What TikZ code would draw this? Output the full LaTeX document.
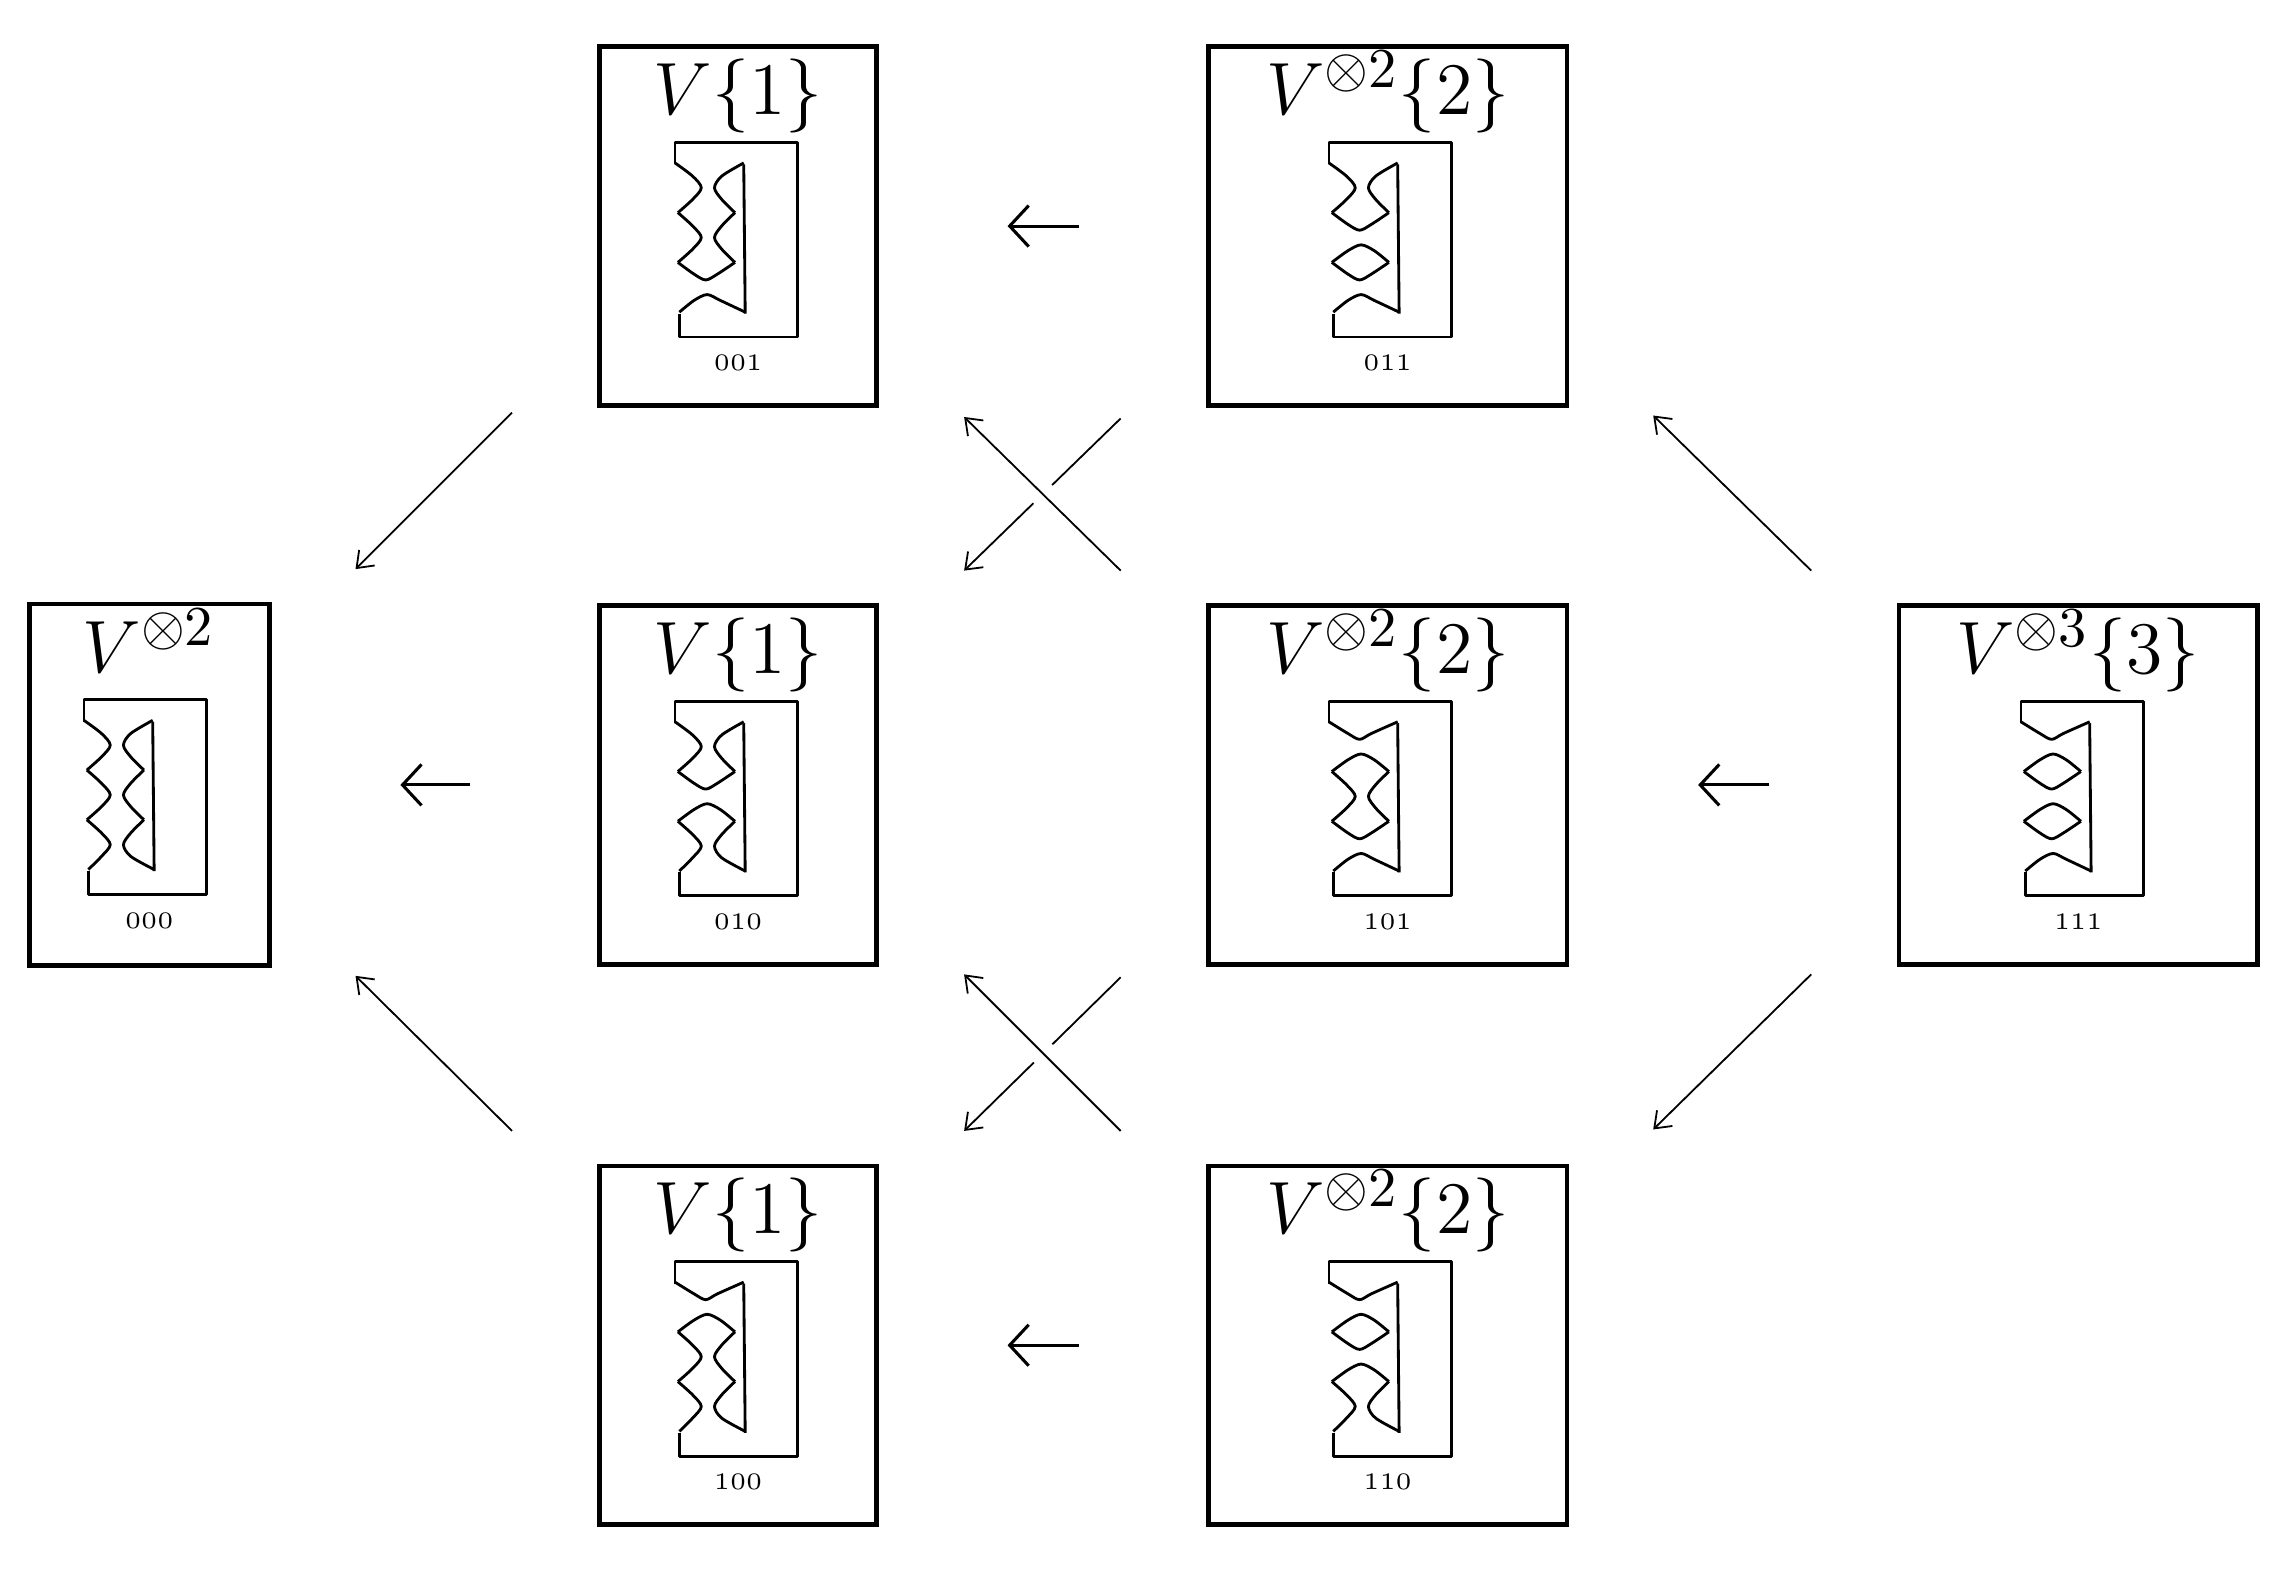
\documentclass[tikz,border=0pt]{standalone}
\usetikzlibrary{arrows.meta,calc}
\tikzstyle{state} = [rectangle, draw, line width=0.9pt, minimum height=2.45cm, inner sep=0pt]
\tikzstyle{narrow} = [state, minimum width=1.89cm]
\tikzstyle{wide} = [state, minimum width=2.45cm]
\tikzstyle{title} = [anchor=base, font=\fontsize{15.5}{18}\selectfont, inner sep=0pt]
\tikzstyle{bits} = [anchor=base, font=\fontsize{4.6}{5}\selectfont, inner sep=0pt]
\tikzstyle{hmap} = [line width=0.6pt, -{Straight Barb[length=1.3mm,width=2.8mm]}, shorten <=0.87cm, shorten >=0.88cm]
\tikzstyle{dmap} = [line width=0.35pt, -{Straight Barb[length=1mm,width=1.5mm]}]
\tikzstyle{over} = [dmap, preaction={draw, white, line width=5pt, -}]
\tikzstyle{sketch} = [line width=0.55pt, line join=round]

% resolution picture, one bit per crossing (0 = pinch, 1 = split)
\newcommand{\resdraw}[3]{%
  \draw (0,15) -- (0,0) -- (84,0) -- (84,133) -- (3,133) -- (3,117);
  \draw (47,15) -- (48,117);
  \foreach \b [count=\i] in {#1,#2,#3} {
    \pgfmathsetmacro\cy{31+34*(\i-1)}
    \pgfmathsetmacro\cu{\cy-17}
    \pgfmathsetmacro\cl{\cy+17}
    \pgfmathsetmacro\lu{\i==1 ? 0 : 2}
    \pgfmathsetmacro\ll{\i==3 ? 3 : 2}
    \pgfmathsetmacro\ru{\i==1 ? 47 : 41}
    \pgfmathsetmacro\rl{\i==3 ? 48 : 41}
    \ifnum\b=0
      \draw plot[smooth] coordinates {(\lu,\cu) (12,\cy-8) (18,\cy) (12,\cy+8) (\ll,\cl)};
      \draw plot[smooth] coordinates {(\ru,\cu) (32,\cy-8) (27,\cy) (32,\cy+8) (\rl,\cl)};
    \else
      \draw plot[smooth] coordinates {(\lu,\cu) (13,\cy-9) (21,\cy-5) (29,\cy-9) (\ru,\cu)};
      \draw plot[smooth] coordinates {(\ll,\cl) (13,\cy+9) (22,\cy+5) (31,\cy+9) (\rl,\cl)};
    \fi
  }}

\begin{document}
\begin{tikzpicture}[x=0.01cm, y=-0.01cm]
\useasboundingbox (0,0) rectangle (1568,1074.5);

\node (b001) [narrow] at (504.5,154.5) {};
\node (b011) [wide] at (948.5,154.5) {};
\node (b000) [state, minimum width=1.64cm, minimum height=2.47cm] at (102,536.5) {};
\node (b010) [narrow] at (504.5,536.5) {};
\node (b101) [wide] at (948.5,536.5) {};
\node (b111) [wide] at (1420.5,536.5) {};
\node (b100) [narrow] at (504.5,919.5) {};
\node (b110) [wide] at (948.5,919.5) {};

%titles and labels
\foreach \n/\t in {001/{V\{1\}}, 011/{V^{\otimes 2}\{2\}}, 000/{V^{\otimes 2}}, 010/{V\{1\}},
                   101/{V^{\otimes 2}\{2\}}, 111/{V^{\otimes 3}\{3\}}, 100/{V\{1\}}, 110/{V^{\otimes 2}\{2\}}} {
  \node[title] at ($(b\n.north)+(0,48)$) {$\t$};
  \node[bits] at ($(b\n.north)+(0,223)$) {\n};
}

%resolutions
\foreach \n/\dx/\p/\q/\r in {001/53/0/0/1, 011/84/0/1/1, 000/39/0/0/0, 010/53/0/1/0,
                             101/84/1/0/1, 111/85/1/1/1, 100/53/1/0/0, 110/84/1/1/0} {
  \begin{scope}[sketch, shift={($(b\n.north west)+(\dx,67)$)}]
    \resdraw{\p}{\q}{\r}
  \end{scope}
}

%horizontal maps
\draw [hmap] (b011) -- (b001);
\draw [hmap] (b010) -- (b000);
\draw [hmap] (b111) -- (b101);
\draw [hmap] (b110) -- (b100);

%diagonal maps
\coordinate (s1) at (350,282);  \coordinate (e1) at (243,389);
\coordinate (s2) at (766,286);  \coordinate (e2) at (659,390);
\coordinate (s3) at (766,390);  \coordinate (e3) at (659,285);
\coordinate (s4) at (1238,390); \coordinate (e4) at (1130,284);
\coordinate (s5) at (1238,666); \coordinate (e5) at (1130,772);
\coordinate (s6) at (766,668);  \coordinate (e6) at (659,773);
\coordinate (s7) at (766,773);  \coordinate (e7) at (659,666);
\coordinate (s8) at (350,773);  \coordinate (e8) at (243,667);

\draw [dmap] (s1) -- (e1);
\draw [dmap] (s2) -- (e2);
\draw [over] (s3) -- (e3);
\draw [dmap] (s4) -- (e4);
\draw [dmap] (s5) -- (e5);
\draw [dmap] (s6) -- (e6);
\draw [over] (s7) -- (e7);
\draw [dmap] (s8) -- (e8);

\end{tikzpicture}
\end{document}
